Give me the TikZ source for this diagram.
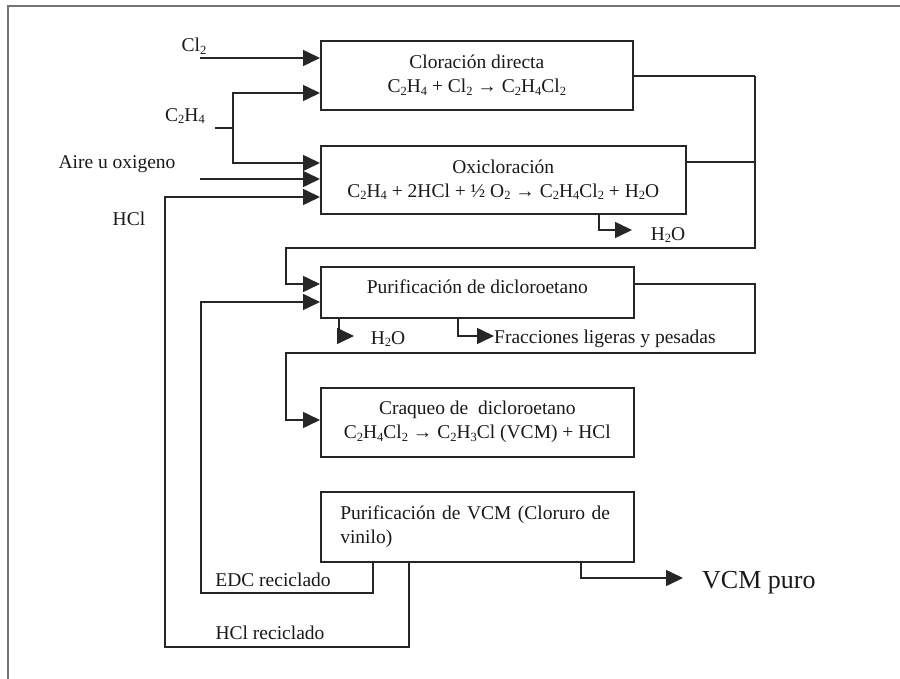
\documentclass[tikz,border=0pt]{standalone}
\usepackage{fontspec}
\setmainfont{Liberation Serif}
\usetikzlibrary{arrows.meta,calc}
\newcommand\chsub[1]{\raisebox{-0.3ex}{\fontsize{12.5}{12.5}\selectfont #1}}
\begin{document}
\begin{tikzpicture}[x=1pt,y=-1pt,
  every node/.style={font=\fontsize{19.5}{24}\selectfont, text=black!90, inner sep=0pt},
  box/.style={draw=black!85, line width=1.6pt, anchor=north west, align=center},
  ln/.style={draw=black!85, line width=1.6pt},
  arr/.style={ln, -{Triangle[length=17pt,width=16pt]}},
  lbl/.style={}]
\useasboundingbox (0,0) rectangle (900,679);
% frame
\draw[black!55, line width=2.7pt] (8,679) -- (8,6) -- (900,6);

% boxes
\node[box, minimum width=312pt, minimum height=69pt] (b1) at (320,40)
  {Cloración directa\\C\chsub{2}H\chsub{4} + Cl\chsub{2} → C\chsub{2}H\chsub{4}Cl\chsub{2}};
\node[box, minimum width=365pt, minimum height=68pt] (b2) at (320,145)
  {Oxicloración\\C\chsub{2}H\chsub{4} + 2HCl + ½ O\chsub{2} → C\chsub{2}H\chsub{4}Cl\chsub{2} + H\chsub{2}O};
\node[box, minimum width=313pt, minimum height=51pt, text depth=11pt] (b3) at (320,266)
  {Purificación de dicloroetano};
\node[box, minimum width=313pt, minimum height=69pt] (b4) at (320,387)
  {Craqueo de\ \ dicloroetano\\C\chsub{2}H\chsub{4}Cl\chsub{2} → C\chsub{2}H\chsub{3}Cl (VCM) + HCl};
\node[box, minimum width=313pt, minimum height=70pt, align=left, text width=274pt, inner xsep=19pt] (b5) at (320,491)
  {Purificación de VCM (Cloruro de\\vinilo)};

% labels
\node (lcl2) at (194,46) {Cl\chsub{2}};
\node (lc2h4) at (185,116) {C\chsub{2}H\chsub{4}};
\node (laire) at (117,164) {Aire u oxigeno};
\node (lhcl) at (129,219) {HCl};
\node (lw1) at (668,235) {H\chsub{2}O};
\node (lw2) at (388,339) {H\chsub{2}O};
\node[anchor=west] (lfr) at (494,339) {Fracciones ligeras y pesadas};
\node (ledc) at (273,580) {EDC reciclado};
\node (lhclr) at (270,633) {HCl reciclado};
\node[anchor=west, font=\fontsize{26}{30}\selectfont] (lvcm) at (702,583) {VCM puro};

% coordinates
\coordinate (cl2s) at (200,58);
\coordinate (c2s) at (215,128);
\coordinate (c2j) at (233,128);
\coordinate (c2u) at (233,93);
\coordinate (c2d) at (233,163);
\coordinate (airs) at (200,179);
\coordinate (hx) at (409,647);
\coordinate (h1) at (165,647);
\coordinate (h2) at (165,197);
\coordinate (ex) at (373,593);
\coordinate (e1) at (201,593);
\coordinate (e2) at (201,302);
\coordinate (vx) at (581,578);
\coordinate (vt) at (683,578);
\coordinate (r1) at (755,76);
\coordinate (r2) at (755,162);
\coordinate (r3) at (755,248);
\coordinate (l3) at (286,248);
\coordinate (l3b) at (286,284);
\coordinate (r4) at (755,284);
\coordinate (r5) at (755,353);
\coordinate (l5) at (286,353);
\coordinate (l5b) at (286,420);
\coordinate (w1) at (599,230);
\coordinate (w1e) at (632,230);
\coordinate (w2) at (339,336);
\coordinate (w2e) at (354,336);
\coordinate (fx) at (458,336);

% connectors
\draw[arr] (cl2s) -- (cl2s -| b1.west);
\draw[ln] (c2s) -- (c2j);
\draw[arr] (c2j) -- (c2u) -- (c2u -| b1.west);
\draw[arr] (c2j) -- (c2d) -- (c2d -| b2.west);
\draw[arr] (airs) -- (airs -| b2.west);
\draw[arr] (hx |- b5.south) -- (hx) -- (h1) -- (h2) -- (h2 -| b2.west);
\draw[arr] (ex |- b5.south) -- (ex) -- (e1) -- (e2) -- (e2 -| b3.west);
\draw[arr] (vx |- b5.south) -- (vx) -- (vt);
\draw[ln] (b1.east |- r1) -- (r1);
\draw[ln] (b2.east |- r2) -- (r2);
\draw[arr] (r1) -- (r3) -- (l3) -- (l3b) -- (l3b -| b3.west);
\draw[arr] (b3.east |- r4) -- (r4) -- (r5) -- (l5) -- (l5b) -- (l5b -| b4.west);
\draw[arr] (w1 |- b2.south) -- (w1) -- (w1e);
\draw[arr] (w2 |- b3.south) -- (w2) -- (w2e);
\draw[arr] (fx |- b3.south) -- (fx) -- (fx -| lfr.west);
\end{tikzpicture}
\end{document}
